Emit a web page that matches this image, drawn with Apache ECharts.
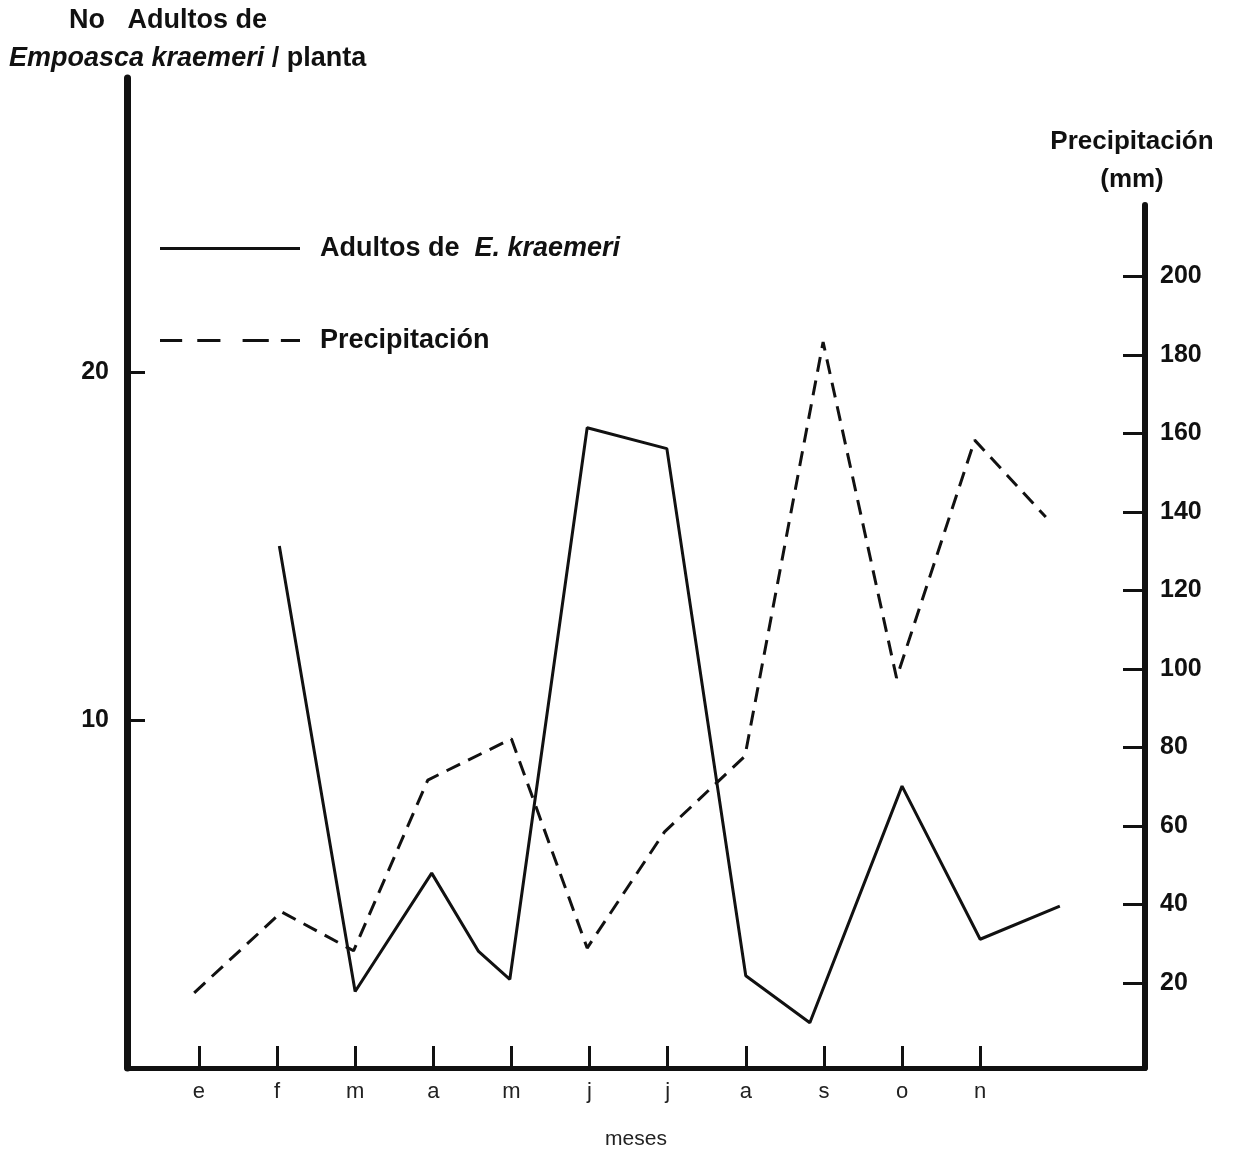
<!DOCTYPE html>
<html>
<head>
<meta charset="utf-8">
<title>Empoasca kraemeri y precipitación</title>
<script src="https://cdn.jsdelivr.net/npm/echarts@6/dist/echarts.min.js"></script>
<style>
  html, body { margin: 0; padding: 0; background: #fff; }
  #chart { width: 1233px; height: 1156px; }
</style>
</head>
<body>
<div id="chart"></div>
<script>
// meses en el eje x: e = 0 ... n = 10
var meses = ['e', 'f', 'm', 'a', 'm', 'j', 'j', 'a', 's', 'o', 'n'];
var mesPos = [0, 1, 2, 3, 4, 5, 6, 7, 8, 9, 10];

// adultos de E. kraemeri / planta (eje izquierdo)
var adultosX = [1.03, 2.0, 2.98, 3.58, 3.98, 4.97, 5.99, 7.0, 7.82, 9.0, 10.0, 11.02];
var adultosY = [15.0, 2.2, 5.6, 3.35, 2.55, 18.4, 17.8, 2.65, 1.3, 8.1, 3.7, 4.65];

// precipitación en mm (eje derecho)
var precipX = [-0.06, 1.06, 1.98, 2.93, 4.0, 4.97, 5.96, 6.99, 7.99, 8.93, 9.93, 10.84];
var precipY = [17.5, 38.1, 28.2, 71.7, 82.2, 28.9, 58.5, 77.8, 183.3, 97.7, 158.3, 138.7];

// marcas de los ejes
var ticksIzq = [10, 20];
var ticksDer = [20, 40, 60, 80, 100, 120, 140, 160, 180, 200];

var nombreAdultos = 'Adultos de E. kraemeri';
var nombrePrecip = 'Precipitación';

function pares(xs, ys) {
    var out = [];
    for (var i = 0; i < xs.length; i++) out.push([xs[i], ys[i]]);
    return out;
}

$ready = function () {
    var chartDom = document.getElementById('chart');
    var myChart = echarts.init(chartDom, null, { renderer: 'canvas' });
    var fuente = '"Liberation Sans", Arial, Helvetica, sans-serif';
    var negro = '#111';
    var xMin = -0.92, xMax = 12.11;

    var option = {
        animation: false,
        backgroundColor: '#fff',
        textStyle: { fontFamily: fuente, color: negro },
        title: [
            {
                text: 'No   Adultos de',
                left: 64, top: 2,
                textStyle: { fontFamily: fuente, fontSize: 27, fontWeight: 'bold', color: negro }
            },
            {
                text: '{i|Empoasca kraemeri} / planta',
                left: 4, top: 40,
                textStyle: {
                    fontFamily: fuente, fontSize: 27, fontWeight: 'bold', color: negro,
                    rich: { i: { fontFamily: fuente, fontSize: 27, fontStyle: 'italic', fontWeight: 'bold', color: negro } }
                }
            }
        ],
        legend: {
            orient: 'vertical',
            left: 155, top: 230,
            itemWidth: 140, itemHeight: 3,
            itemGap: 65,
            symbolKeepAspect: false,
            data: [
                { name: nombreAdultos, icon: 'path://M0,0H140V3H0Z' },
                { name: nombrePrecip, icon: 'path://M5,0H27V3H5Z M42,0H65V3H42Z M87,0H113V3H87Z M125,0H144V3H125Z' }
            ],
            formatter: function (name) {
                return name === nombreAdultos ? 'Adultos de  {i|E. kraemeri}' : name;
            },
            textStyle: {
                fontFamily: fuente, fontSize: 27, fontWeight: 'bold', color: negro,
                padding: [0, 0, 0, 15],
                rich: { i: { fontFamily: fuente, fontSize: 27, fontStyle: 'italic', fontWeight: 'bold', color: negro } }
            }
        },
        grid: [
            { left: 127, right: 88, top: 78, bottom: 88, outerBoundsMode: 'none', containLabel: false },
            { left: 127, right: 88, top: 205, bottom: 88, outerBoundsMode: 'none', containLabel: false }
        ],
        xAxis: [
            {
                type: 'value', gridIndex: 0,
                min: xMin, max: xMax,
                name: 'meses', nameLocation: 'middle', nameGap: 61,
                nameTextStyle: { fontFamily: fuente, fontSize: 21, color: '#222' },
                axisLine: { show: true, onZero: false, lineStyle: { color: negro, width: 5 } },
                axisTick: { show: true, inside: true, length: 22, customValues: mesPos, lineStyle: { color: negro, width: 3 } },
                axisLabel: {
                    show: true, margin: 13, customValues: mesPos,
                    fontFamily: fuente, fontSize: 22, color: '#222',
                    formatter: function (v) { return meses[Math.round(v)]; }
                },
                splitLine: { show: false }
            },
            {
                type: 'value', gridIndex: 1,
                min: xMin, max: xMax, show: false,
                axisLine: { onZero: false },
                splitLine: { show: false }
            }
        ],
        yAxis: [
            {
                type: 'value', gridIndex: 0, position: 'left',
                min: 0, max: 28.45,
                axisLine: { show: true, onZero: false, lineStyle: { color: negro, width: 7 } },
                axisTick: { show: true, inside: true, length: 18, customValues: ticksIzq, lineStyle: { color: negro, width: 3 } },
                axisLabel: { show: true, margin: 18, customValues: ticksIzq, fontFamily: fuente, fontSize: 25, fontWeight: 'bold', color: negro },
                splitLine: { show: false }
            },
            {
                type: 'value', gridIndex: 1, position: 'right',
                min: -1.66, max: 218.2,
                name: 'Precipitación\n(mm)', nameLocation: 'end', nameGap: 6,
                nameTextStyle: { fontFamily: fuente, fontSize: 26, fontWeight: 'bold', color: negro, lineHeight: 38, align: 'center', padding: [0, 26, 0, 0] },
                axisLine: { show: true, onZero: false, lineStyle: { color: negro, width: 6 } },
                axisTick: { show: true, inside: true, length: 22, customValues: ticksDer, lineStyle: { color: negro, width: 3 } },
                axisLabel: { show: true, margin: 15, customValues: ticksDer, fontFamily: fuente, fontSize: 25, fontWeight: 'bold', color: negro },
                splitLine: { show: false }
            }
        ],
        series: [
            {
                name: nombreAdultos,
                type: 'line',
                xAxisIndex: 0, yAxisIndex: 0,
                symbol: 'none',
                color: negro,
                lineStyle: { color: negro, width: 3, type: 'solid' },
                data: pares(adultosX, adultosY)
            },
            {
                name: nombrePrecip,
                type: 'line',
                xAxisIndex: 1, yAxisIndex: 1,
                symbol: 'none',
                color: negro,
                lineStyle: { color: negro, width: 3, type: [15, 9] },
                data: pares(precipX, precipY)
            }
        ]
    };

    option && myChart.setOption(option);
};
$ready();
</script>
</body>
</html>
